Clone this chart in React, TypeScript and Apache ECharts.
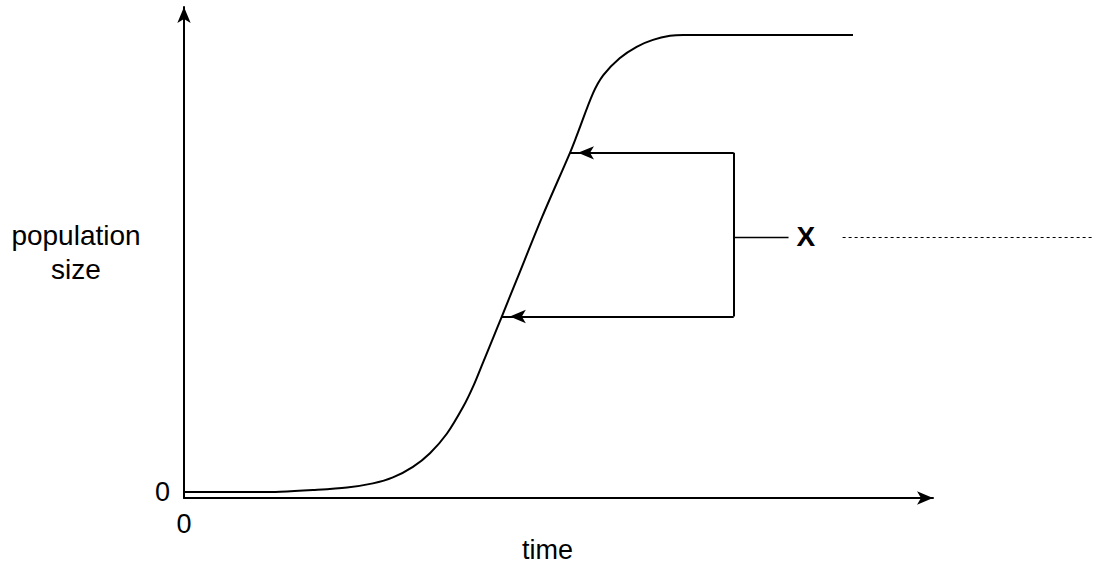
import React, { useEffect, useRef } from 'react';
import * as echarts from 'echarts';

// Curve (time in arbitrary units, population with plateau = 100)
const time = [0, 8.9, 13.0, 17.4, 22.0, 25.5, 28.2, 30.9, 33.2, 35.5, 37.7, 39.0, 40.4, 41.7, 42.9, 44.9, 48.4, 52.1, 53.0, 55.2, 56.6, 58.8, 61.1, 63.3, 65.6, 67.4, 69.6, 90.3];
const population = [0, 0, 0.07, 0.44, 1.0, 1.9, 3.2, 5.5, 8.5, 12.8, 18.7, 23.0, 28.5, 33.6, 38.4, 46.4, 60.4, 74.2, 77.9, 87.2, 91.2, 94.9, 97.4, 98.9, 99.8, 100, 100, 100];

// Axis texts
const xTickLabels = [0];
const yTickLabels = [0];
const xAxisName = 'time';
const yAxisName = 'population\nsize';

// Annotation "X": bracket between two points on the curve
const arrowUpperIndex = 17;
const arrowLowerIndex = 14;
const bracketTime = 74.2;
const bracketTickEnd = 81.6;
const bracketMid = 55.8;
const bracketLabel = 'X';
const answerLineStart = 88.9;

const FONT = 'Liberation Sans, Arial, Helvetica, sans-serif';

export default function App() {
  const ref = useRef<HTMLDivElement>(null);

  useEffect(() => {
    document.body.style.margin = '0';
    const chart = echarts.init(ref.current!, null, { renderer: 'svg' });
    const curve = time.map((t, i) => [t, population[i]]);
    const upper = curve[arrowUpperIndex];
    const lower = curve[arrowLowerIndex];
    const arrowEnd = (p: number[]) => ({
      coord: p,
      symbol: 'arrow',
      symbolSize: [10, 16],
      symbolOffset: [0, 8],
    });
    const xLabelStyle = {
      show: true,
      position: 'end',
      formatter: bracketLabel,
      fontSize: 28,
      fontWeight: 'bold',
      color: '#000',
      fontFamily: FONT,
      distance: 8,
    };
    chart.setOption({
      animation: false,
      backgroundColor: '#fff',
      textStyle: { fontFamily: FONT },
      grid: { left: 184, right: 161, top: 7, bottom: 70, containLabel: false, outerBoundsMode: 'none' },
      xAxis: {
        type: 'value',
        min: 0,
        max: 101.1,
        name: xAxisName,
        nameLocation: 'middle',
        nameGap: 38,
        nameMoveOverlap: false,
        nameTextStyle: { fontSize: 27, lineHeight: 27, color: '#000', fontFamily: FONT, align: 'center', verticalAlign: 'top', padding: [0, 22, 0, 0] },
        axisLine: {
          onZero: false,
          symbol: ['none', 'arrow'],
          symbolSize: [10, 16],
          lineStyle: { color: '#000', width: 2 },
        },
        axisTick: { show: false },
        splitLine: { show: false },
        axisLabel: {
          showMinLabel: true,
          showMaxLabel: false,
          customValues: xTickLabels,
          formatter: (v: number) => (xTickLabels.includes(v) ? String(v) : ''),
          fontSize: 27,
          color: '#000',
          fontFamily: FONT,
          margin: 12,
        },
      },
      yAxis: {
        type: 'value',
        min: -1.3,
        max: 106.1,
        name: yAxisName,
        nameLocation: 'middle',
        nameRotate: 0,
        nameGap: 108,
        nameMoveOverlap: false,
        nameTextStyle: { fontSize: 28, color: '#000', fontFamily: FONT, align: 'center', verticalAlign: 'middle', lineHeight: 34, padding: [0, 0, 7, 0] },
        axisLine: {
          onZero: false,
          symbol: ['none', 'arrow'],
          symbolSize: [10, 16],
          lineStyle: { color: '#000', width: 2 },
        },
        axisTick: { show: false },
        splitLine: { show: false },
        axisLabel: {
          showMinLabel: true,
          showMaxLabel: false,
          customValues: yTickLabels,
          formatter: (v: number) => (yTickLabels.includes(v) ? String(v) : ''),
          fontSize: 27,
          color: '#000',
          fontFamily: FONT,
          margin: 14,
        },
      },
      series: [
        {
          type: 'line',
          data: curve,
          smooth: 0.3,
          showSymbol: false,
          symbol: 'none',
          lineStyle: { color: '#000', width: 2 },
          silent: true,
          clip: false,
          markLine: {
            silent: true,
            animation: false,
            symbol: ['none', 'none'],
            lineStyle: { color: '#000', width: 2, type: 'solid' },
            label: { show: false },
            emphasis: { disabled: true },
            data: [
              [{ coord: [bracketTime, upper[1]], symbol: 'none' }, arrowEnd(upper)],
              [{ coord: [bracketTime, lower[1]], symbol: 'none' }, arrowEnd(lower)],
              [{ coord: [bracketTime, upper[1]], symbol: 'none' }, { coord: [bracketTime, lower[1]], symbol: 'none' }],
              [
                {
                  coord: [bracketTime, bracketMid],
                  symbol: 'none',
                  lineStyle: { color: '#000', width: 1.3, type: 'solid' },
                  label: xLabelStyle,
                },
                {
                  coord: [bracketTickEnd, bracketMid],
                  symbol: 'none',
                  lineStyle: { color: '#000', width: 1.3, type: 'solid' },
                  label: xLabelStyle,
                },
              ],
            ],
          },
        },
      ],
    });
    const p0 = chart.convertToPixel({ gridIndex: 0 }, [answerLineStart, bracketMid]) as number[];
    chart.setOption({
      graphic: [
        {
          type: 'line',
          silent: true,
          shape: { x1: p0[0], y1: Math.round(p0[1]) + 0.5, x2: chart.getWidth(), y2: Math.round(p0[1]) + 0.5 },
          style: { stroke: '#000', lineWidth: 1, lineDash: [3, 3] },
        },
      ],
    });
    return () => chart.dispose();
  }, []);

  return (
    <div
      ref={ref}
      style={{ position: 'fixed', left: 0, top: 0, width: 1094, height: 568, background: '#fff' }}
    />
  );
}
